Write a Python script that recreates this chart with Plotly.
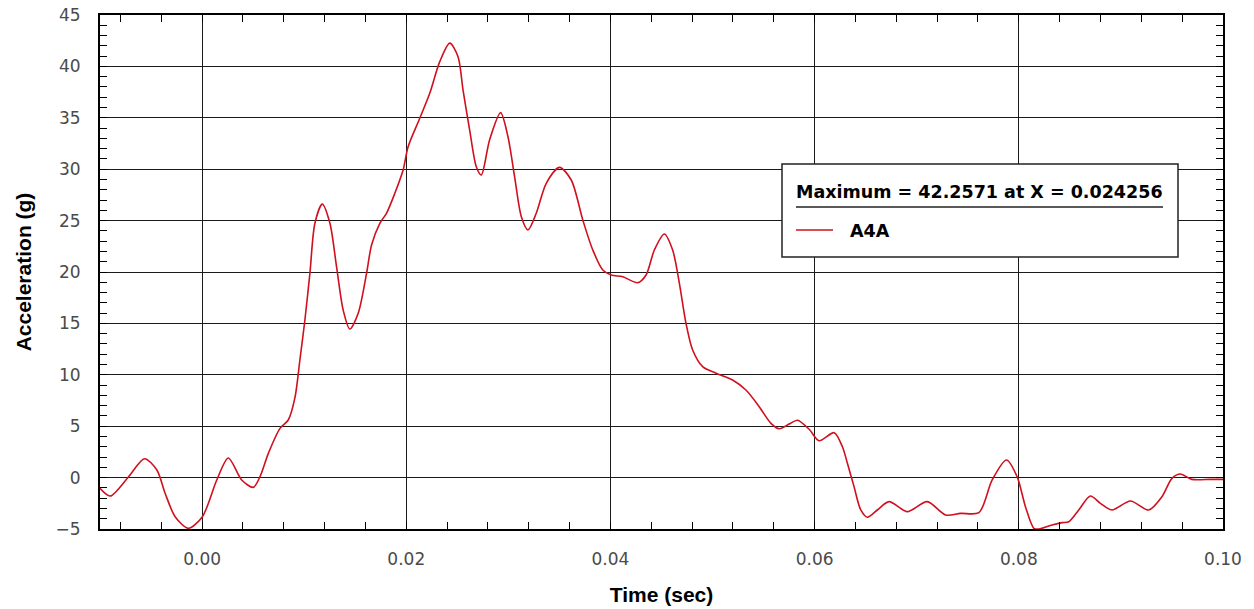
import plotly.graph_objects as go

# time (sec) and acceleration (g)
time_s = [
    -0.0100, -0.0090, -0.0072, -0.00564, -0.00443, -0.00362, -0.00264, -0.00134,
    0.00003, 0.00144, 0.00257, 0.00388, 0.00502, 0.00567, 0.00649, 0.00763,
    0.00844, 0.0091, 0.00958, 0.01007, 0.01056, 0.01105, 0.01177, 0.01252,
    0.01317, 0.01382, 0.01447, 0.01529, 0.01611, 0.0166, 0.01741, 0.01806,
    0.01888, 0.01969, 0.02018, 0.02132, 0.0223, 0.02328, 0.02426, 0.02507,
    0.02556, 0.02621, 0.02686, 0.02735, 0.02816, 0.02924, 0.02996, 0.03061,
    0.03127, 0.03192, 0.03273, 0.03371, 0.03501, 0.03616, 0.03729, 0.03827,
    0.03925, 0.04007, 0.0412, 0.04267, 0.04349, 0.0443, 0.04528, 0.04609,
    0.04675, 0.0474, 0.04805, 0.04903, 0.05034, 0.05196, 0.05327, 0.05457,
    0.05572, 0.05653, 0.05751, 0.05832, 0.05946, 0.06044, 0.06191, 0.06272,
    0.06321, 0.06386, 0.06452, 0.06517, 0.06614, 0.06729, 0.06908, 0.07103,
    0.07283, 0.0743, 0.07609, 0.07739, 0.07879, 0.07983, 0.08065, 0.08147,
    0.08196, 0.08326, 0.08424, 0.08489, 0.08587, 0.08701, 0.08799, 0.08913,
    0.09093, 0.09272, 0.09402, 0.095, 0.09582, 0.09695, 0.09875, 0.1000,
]
accel_g = [
    -1.04, -1.79, 0.09, 1.84, 0.74, -1.53, -3.80, -4.93,
    -3.80, -0.23, 1.91, -0.23, -0.95, 0.09, 2.36, 4.79,
    5.60, 7.80, 11.44, 15.33, 19.87, 24.74, 26.60, 24.74,
    20.52, 16.30, 14.45, 15.98, 19.87, 22.63, 24.74, 25.71,
    27.66, 29.92, 32.19, 34.95, 37.38, 40.46, 42.26, 40.94,
    37.70, 33.81, 30.24, 29.44, 32.84, 35.50, 33.16, 29.27,
    25.38, 24.09, 25.71, 28.63, 30.18, 28.95, 25.06, 22.14,
    20.19, 19.70, 19.54, 18.96, 19.71, 22.14, 23.70, 22.14,
    18.90, 15.01, 12.41, 10.79, 10.15, 9.49, 8.52, 6.90,
    5.28, 4.75, 5.21, 5.58, 4.70, 3.59, 4.37, 3.00,
    1.39, -0.88, -3.15, -3.86, -3.15, -2.34, -3.31, -2.34,
    -3.64, -3.48, -3.41, -0.23, 1.71, 0.09, -2.83, -4.93,
    -5.00, -4.61, -4.38, -4.29, -3.15, -1.79, -2.50, -3.15,
    -2.28, -3.15, -1.86, -0.07, 0.35, -0.17, -0.17, -0.17,
]
channel = "A4A"
max_text = "Maximum = 42.2571 at X = 0.024256"

RED = "#d0101e"
TICKFONT = dict(family="DejaVu Sans", size=17, color="#4a4a4a")
TITLEFONT = dict(family="Liberation Sans", size=21, color="black", weight="bold")

fig = go.Figure()
fig.add_trace(go.Scatter(
    x=time_s, y=accel_g, mode="lines", name=channel,
    line=dict(color=RED, width=1.6, shape="spline", smoothing=0.8),
    showlegend=False,
))

axis_common = dict(
    showline=True, linecolor="black", linewidth=2, mirror="allticks",
    showgrid=True, gridcolor="#1a1a1a", gridwidth=1.4,
    zeroline=False, ticks="inside", ticklen=7, tickcolor="black",
    tickfont=TICKFONT, ticklabelstandoff=14, automargin=False,
)

fig.update_xaxes(
    range=[-0.01, 0.1], dtick=0.02, tick0=0, tickformat=".2f",
    minor=dict(dtick=0.004, tick0=0, ticks="inside", ticklen=7,
               tickcolor="black", showgrid=False),
    title=dict(text="Time (sec)", font=TITLEFONT, standoff=19),
    **axis_common,
)
fig.update_yaxes(
    range=[-5, 45], dtick=5, tick0=0,
    minor=dict(dtick=1, tick0=0, ticks="inside", ticklen=7,
               tickcolor="black", showgrid=False),
    title=dict(text="Acceleration (g)", font=TITLEFONT, standoff=18),
    **axis_common,
)

# legend box drawn by hand (has an underlined header line)
def px_x(p):
    return (p - 100) / 1123

def px_y(p):
    return (529 - p) / 514

fig.add_shape(type="rect", xref="paper", yref="paper",
              x0=px_x(782), x1=px_x(1178), y0=px_y(257), y1=px_y(164),
              fillcolor="white", line=dict(color="#222", width=1.5), layer="above")
fig.add_shape(type="line", xref="paper", yref="paper",
              x0=px_x(796), x1=px_x(1163), y0=px_y(207), y1=px_y(207),
              line=dict(color="#222", width=1.5), layer="above")
fig.add_shape(type="line", xref="paper", yref="paper",
              x0=px_x(796), x1=px_x(833), y0=px_y(230), y1=px_y(230),
              line=dict(color=RED, width=1.3), layer="above")
fig.add_annotation(xref="paper", yref="paper", x=px_x(979.5), y=px_y(192),
                   text=max_text, showarrow=False, xanchor="center", yanchor="middle",
                   font=dict(family="DejaVu Sans", size=17.5, color="black", weight="bold"))
fig.add_annotation(xref="paper", yref="paper", x=px_x(848), y=px_y(231),
                   text=channel, showarrow=False, xanchor="left", yanchor="middle",
                   font=dict(family="DejaVu Sans", size=17.5, color="black", weight="bold"))

fig.update_layout(
    width=1254, height=609,
    margin=dict(l=100, r=31, t=15, b=80),
    plot_bgcolor="white", paper_bgcolor="white",
)

fig.write_html("out.html", config={"displayModeBar": False},
               post_script="document.body.style.margin='0';")
